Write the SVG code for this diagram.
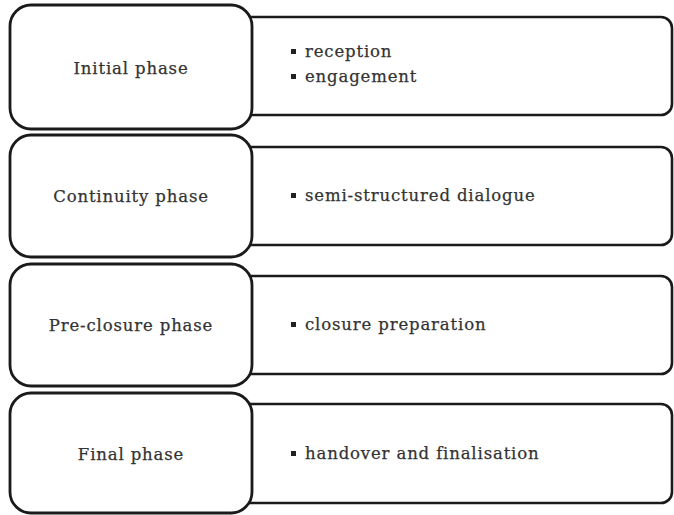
<svg xmlns="http://www.w3.org/2000/svg" width="674" height="515" viewBox="0 0 674 515">
<style>
.rb{fill:#fff;stroke:#1a1a1a;stroke-width:2.6}
.lb{fill:#fff;stroke:#1a1a1a;stroke-width:2.8}
.t{font-family:"DejaVu Serif","Liberation Serif",serif;font-size:16.5px;letter-spacing:0.85px;fill:#333;stroke:#333;stroke-width:0.25}
.c{text-anchor:middle}
.b{fill:#222}
</style>
<rect width="674" height="515" fill="#fff"/>
<g id="row1">
<rect class="rb" x="230" y="17" width="442" height="98" rx="11"/>
<rect class="lb" x="10" y="5" width="242" height="124" rx="21"/>
<text class="t c" x="131" y="74">Initial phase</text>
<rect class="b" x="291" y="49" width="5" height="5"/><text class="t" x="305" y="57">reception</text>
<rect class="b" x="291" y="74" width="5" height="5"/><text class="t" x="305" y="82">engagement</text>
</g>
<g id="row2">
<rect class="rb" x="230" y="147" width="442" height="98" rx="11"/>
<rect class="lb" x="10" y="135" width="242" height="122" rx="21"/>
<text class="t c" x="131" y="202">Continuity phase</text>
<rect class="b" x="291" y="193" width="5" height="5"/><text class="t" x="305" y="201">semi-structured dialogue</text>
</g>
<g id="row3">
<rect class="rb" x="230" y="276" width="442" height="98" rx="11"/>
<rect class="lb" x="10" y="264" width="242" height="122" rx="21"/>
<text class="t c" x="131" y="331">Pre-closure phase</text>
<rect class="b" x="291" y="322" width="5" height="5"/><text class="t" x="305" y="330">closure preparation</text>
</g>
<g id="row4">
<rect class="rb" x="230" y="404" width="442" height="99" rx="11"/>
<rect class="lb" x="10" y="393" width="242" height="120" rx="21"/>
<text class="t c" x="131" y="460">Final phase</text>
<rect class="b" x="291" y="451" width="5" height="5"/><text class="t" x="305" y="459">handover and finalisation</text>
</g>
<g id="connectors"></g>
</svg>
